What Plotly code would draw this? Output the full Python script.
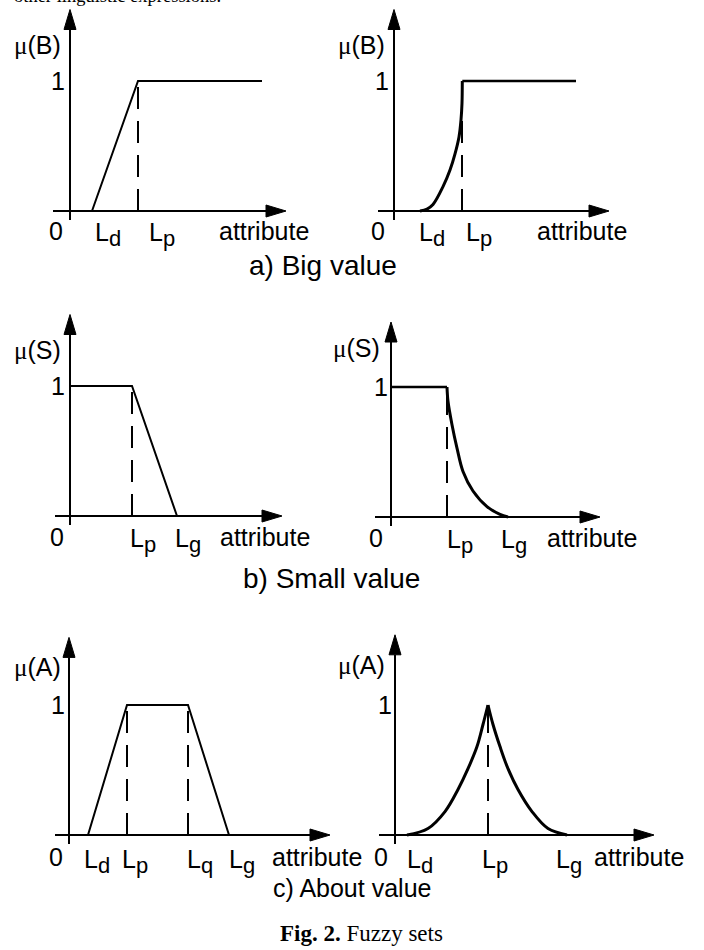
import plotly.graph_objects as go

W, H = 704, 950
PX_X, PX_Y = 10.0, 130.0          # pixels per attribute unit / per membership unit
XMIN, XMAX = -4.0, 28.0
YMIN, YMAX = -0.3, 1.6

# a) Big value
big_lin_x = [2.2, 6.8, 19.2]
big_lin_y = [0, 1, 1]
big_crv_x = [2.6, 3.3, 3.9, 4.9, 5.6, 6.1, 6.5, 6.7, 6.8, 6.83]
big_crv_y = [0, 0.015, 0.05, 0.187, 0.315, 0.44, 0.57, 0.70, 0.83, 1.0]
big_top_x = [6.83, 18.2]
big_top_y = [1, 1]

# b) Small value
small_lin_x = [0, 6.2, 10.7]
small_lin_y = [1, 1, 0]
small_top_x = [0, 5.6]
small_top_y = [1, 1]
small_crv_x = [5.6, 5.7, 6.1, 6.6, 7.2, 8.2, 9.6, 10.9, 11.7]
small_crv_y = [1.0, 0.89, 0.71, 0.53, 0.35, 0.20, 0.08, 0.02, 0]

# c) About value
about_lin_x = [1.9, 5.8, 11.9, 16.0]
about_lin_y = [0, 1, 1, 0]
about_left_x = [1.2, 3.3, 5.0, 6.3, 7.3, 8.2, 8.8, 9.3]
about_left_y = [0, 0.05, 0.18, 0.35, 0.51, 0.68, 0.85, 1.0]
about_right_x = [9.3, 9.8, 10.5, 11.3, 12.3, 13.7, 15.3, 17.2]
about_right_y = [1.0, 0.85, 0.68, 0.51, 0.35, 0.18, 0.05, 0]

SANS = "Liberation Sans, Arial, sans-serif"
SERIF = "Liberation Serif, Times New Roman, serif"

panels = [
    dict(ox=70, oy=211, xa=(-1.7, 21.6), yt=1.55, mu="B",
         lines=[(big_lin_x, big_lin_y, "linear", 2)], dash=[6.8],
         mu_x=-0.7, mu_y=1.28, one_x=-0.3, zero_x=-0.5, lab_y=-0.15,
         ticks=[("d", 2.3), ("p", 7.7)], attr_x=14.7),
    dict(ox=394, oy=211, xa=(-1.6, 21.5), yt=1.55, mu="B",
         lines=[(big_crv_x, big_crv_y, "spline", 3), (big_top_x, big_top_y, "linear", 2.5)], dash=[6.8],
         mu_x=-0.7, mu_y=1.28, one_x=-0.3, zero_x=-0.7, lab_y=-0.15,
         ticks=[("d", 2.3), ("p", 7.0)], attr_x=14.1),
    dict(ox=70, oy=516, xa=(-1.5, 21.2), yt=1.55, mu="S",
         lines=[(small_lin_x, small_lin_y, "linear", 2)], dash=[6.2],
         mu_x=-0.7, mu_y=1.28, one_x=-0.3, zero_x=-0.4, lab_y=-0.16,
         ticks=[("p", 5.8), ("g", 10.3)], attr_x=14.8),
    dict(ox=391, oy=517, xa=(-1.6, 20.9), yt=1.50, mu="S",
         lines=[(small_top_x, small_top_y, "linear", 2.5), (small_crv_x, small_crv_y, "spline", 3)], dash=[5.6],
         mu_x=-0.9, mu_y=1.30, one_x=-0.1, zero_x=-0.6, lab_y=-0.16,
         ticks=[("p", 5.4), ("g", 10.8)], attr_x=15.4),
    dict(ox=69, oy=835, xa=(-1.4, 26.1), yt=1.52, mu="A",
         lines=[(about_lin_x, about_lin_y, "linear", 2)], dash=[5.8, 11.9],
         mu_x=-0.6, mu_y=1.29, one_x=-0.2, zero_x=-0.4, lab_y=-0.17,
         ticks=[("d", 1.3), ("p", 5.1), ("q", 11.6), ("g", 15.8)], attr_x=20.1),
    dict(ox=395, oy=835, xa=(-1.6, 25.9), yt=1.54, mu="A",
         lines=[(about_left_x, about_left_y, "spline", 3), (about_right_x, about_right_y, "spline", 3)], dash=[9.3],
         mu_x=-0.8, mu_y=1.31, one_x=-0.1, zero_x=-0.5, lab_y=-0.17,
         ticks=[("d", 1.0), ("p", 8.5), ("g", 15.9)], attr_x=19.7),
]

fig = go.Figure()
shapes, annotations = [], []
layout = {}

for i, p in enumerate(panels, start=1):
    xs = "" if i == 1 else str(i)
    xr, yr = "x" + xs, "y" + xs
    ox, oy = p["ox"], p["oy"]
    layout["xaxis" + xs] = dict(domain=[(ox + XMIN * PX_X) / W, (ox + XMAX * PX_X) / W],
                                range=[XMIN, XMAX], visible=False, anchor=yr, fixedrange=True)
    layout["yaxis" + xs] = dict(domain=[1 - (oy - YMIN * PX_Y) / H, 1 - (oy - YMAX * PX_Y) / H],
                                range=[YMIN, YMAX], visible=False, anchor=xr, fixedrange=True)

    # membership function
    for lx, ly, shp, lw in p["lines"]:
        fig.add_trace(go.Scatter(x=lx, y=ly, mode="lines", xaxis=xr, yaxis=yr,
                                 line=dict(color="black", width=lw, shape=shp, smoothing=1.0),
                                 hoverinfo="skip", showlegend=False))
    for dx in p["dash"]:
        fig.add_trace(go.Scatter(x=[dx, dx], y=[0, 1], mode="lines", xaxis=xr, yaxis=yr,
                                 line=dict(color="black", width=2, dash="22px,12px"),
                                 hoverinfo="skip", showlegend=False))

    # axes with arrow heads
    x0, x1 = p["xa"]
    hl_x, hw_y = 20 / PX_X, 6 / PX_Y
    hl_y, hw_x = 20 / PX_Y, 6 / PX_X
    yt = p["yt"]
    shapes.append(dict(type="line", xref=xr, yref=yr, x0=x0, y0=0, x1=x1 - hl_x, y1=0,
                       line=dict(color="black", width=2)))
    shapes.append(dict(type="path", xref=xr, yref=yr,
                       path=f"M {x1},0 L {x1 - hl_x},{hw_y} L {x1 - hl_x},{-hw_y} Z",
                       fillcolor="black", line=dict(color="black", width=1)))
    shapes.append(dict(type="line", xref=xr, yref=yr, x0=0, y0=-0.07, x1=0, y1=yt - hl_y,
                       line=dict(color="black", width=2)))
    shapes.append(dict(type="path", xref=xr, yref=yr,
                       path=f"M 0,{yt} L {-hw_x},{yt - hl_y} L {hw_x},{yt - hl_y} Z",
                       fillcolor="black", line=dict(color="black", width=1)))

    font = dict(family=SANS, size=25, color="black")
    annotations.append(dict(xref=xr, yref=yr, x=p["mu_x"], y=p["mu_y"], xanchor="right", yanchor="middle",
                            text=f"<span style='font-family:Liberation Serif'>μ</span>({p['mu']})",
                            showarrow=False, font=font))
    annotations.append(dict(xref=xr, yref=yr, x=p["one_x"], y=1.0, xanchor="right", yanchor="middle",
                            text="1", showarrow=False, font=font))
    annotations.append(dict(xref=xr, yref=yr, x=p["zero_x"], y=p["lab_y"], xanchor="right", yanchor="middle",
                            text="0", showarrow=False, font=font))
    for sub, tx in p["ticks"]:
        annotations.append(dict(xref=xr, yref=yr, x=tx, y=p["lab_y"] - 0.03, xanchor="left", yanchor="middle",
                                text=f"L<sub><span style='font-size:22px'>{sub}</span></sub>",
                                showarrow=False, font=font))
    annotations.append(dict(xref=xr, yref=yr, x=p["attr_x"], y=p["lab_y"], xanchor="left", yanchor="middle",
                            text="attribute", showarrow=False, font=font))

captions = [
    ("a) Big value", 323, 265, 28, SANS),
    ("b) Small value", 331, 578, 28, SANS),
    ("c) About value", 352, 888, 25, SANS),
    ("<b>Fig. 2.</b> Fuzzy sets", 361, 933, 23, SERIF),
]
for txt, cx, cy, fs, fam in captions:
    annotations.append(dict(xref="paper", yref="paper", x=cx / W, y=1 - cy / H, xanchor="center",
                            yanchor="middle", text=txt, showarrow=False,
                            font=dict(family=fam, size=fs, color="black")))

# cut-off line of body text above the figure
annotations.append(dict(xref="paper", yref="paper", x=12 / W, y=1 - 8 / H, xanchor="left", yanchor="bottom",
                        text="other linguistic expressions.", showarrow=False,
                        font=dict(family=SERIF, size=18.5, color="black")))

fig.update_layout(width=W, height=H, margin=dict(l=0, r=0, t=0, b=0),
                  paper_bgcolor="white", plot_bgcolor="white",
                  shapes=shapes, annotations=annotations, **layout)

fig.write_html("out.html", config={"displayModeBar": False},
               post_script="document.body.style.margin='0';document.body.style.overflow='hidden';")
